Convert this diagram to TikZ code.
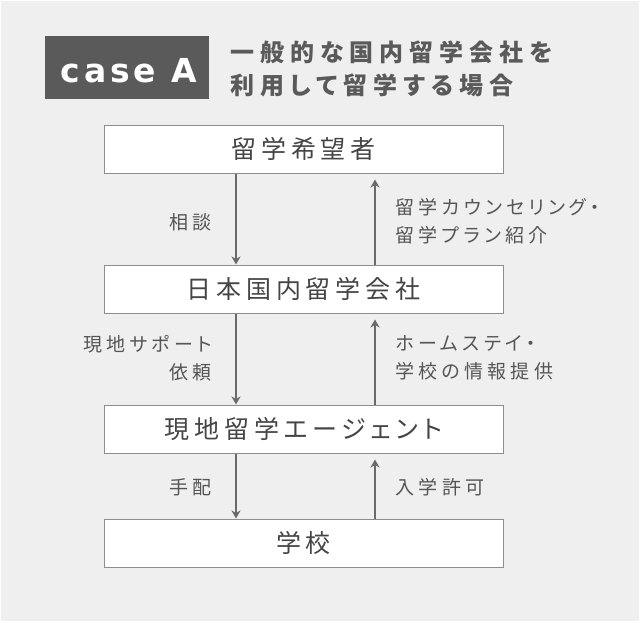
\documentclass[tikz,border=0pt]{standalone}
\usepackage{fontspec}
\usetikzlibrary{arrows.meta}
\setmainfont{Liberation Sans}
\newfontfamily\jpfont{Noto Sans CJK JP}[RawFeature=+palt]
\newfontfamily\casefam{DejaVu Sans}
\definecolor{bgcol}{HTML}{EFEFEF}
\definecolor{casecol}{HTML}{5A5A5A}
\definecolor{linecol}{HTML}{8E8E8E}
\definecolor{boxtext}{HTML}{454545}
\definecolor{lbltext}{HTML}{555555}
\definecolor{arrowcol}{HTML}{6A6A6A}
\newcommand{\casefont}{\casefam\bfseries\fontsize{33}{40}\selectfont\addfontfeature{LetterSpace=12}}
\newcommand{\titlefont}{\jpfont\bfseries\fontsize{24}{33}\selectfont\addfontfeature{LetterSpace=25}}
\newcommand{\boxfont}{\jpfont\fontsize{25}{30}\selectfont\addfontfeature{LetterSpace=19}}
\newcommand{\lblfont}{\jpfont\fontsize{19}{28}\selectfont\addfontfeature{LetterSpace=22}}

\tikzset{
  stepbox/.style={draw=linecol, fill=white, line width=1pt, minimum width=399pt,
    minimum height=48pt, inner sep=0pt, text=boxtext, font=\boxfont},
  lbl/.style={inner sep=0pt, text=lbltext, font=\lblfont},
  flow/.style={draw=arrowcol, line width=1.3pt,
    -{Stealth[length=8pt,width=9pt,inset=2.5pt]}},
}

\begin{document}
\begin{tikzpicture}[x=1pt,y=-1pt]
          \useasboundingbox (0,0) rectangle (640,622);
          \fill[white] (0,0) rectangle (640,622);
          \fill[bgcol] (1,1) rectangle (639,621);

          % heading
          \node[fill=casecol, minimum width=164pt, minimum height=63pt, inner sep=0pt] (case) at (127,67.5) {};
          \node[inner sep=0pt, text=white, font=\casefont] (caselbl) at ([xshift=2pt,yshift=-3.5pt]case.center) {case A};
          \node[inner sep=0pt, anchor=west, align=left, text=casecol, font=\titlefont] (title) at (230,68.5)
            {一般的な国内留学会社を\\利用して留学する場合};

          % boxes
          \node[stepbox] (kibo) at (303.5,149) {留学希望者};
          \node[stepbox] (kaisha) at (303.5,289) {日本国内留学会社};
          \node[stepbox] (agent) at (303.5,429) {現地留学エージェント};
          \node[stepbox] (gakko) at (303.5,543) {学校};

          % arrows
          \draw[flow] ([xshift=-67.5pt]kibo.south) -- ([xshift=-67.5pt]kaisha.north);
          \draw[flow] ([xshift=71.5pt]kaisha.north) -- ([xshift=71.5pt,yshift=-6pt]kibo.south);
          \draw[flow] ([xshift=-67.5pt]kaisha.south) -- ([xshift=-67.5pt]agent.north);
          \draw[flow] ([xshift=71.5pt]agent.north) -- ([xshift=71.5pt,yshift=-6pt]kaisha.south);
          \draw[flow] ([xshift=-67.5pt]agent.south) -- ([xshift=-67.5pt]gakko.north);
          \draw[flow] ([xshift=71.5pt]gakko.north) -- ([xshift=71.5pt,yshift=-6pt]agent.south);

          % labels
          \node[lbl, anchor=east] (soudan) at (212,222) {相談};
          \node[lbl, anchor=west, align=left] (counsel) at (395.5,221) {留学カウンセリング・\\留学プラン紹介};
          \node[lbl, anchor=east, align=right] (irai) at (212,358) {現地サポート\\依頼};
          \node[lbl, anchor=west, align=left] (joho) at (395.5,358) {ホームステイ・\\学校の情報提供};
          \node[lbl, anchor=east] (tehai) at (212,487) {手配};
          \node[lbl, anchor=west] (kyoka) at (395.5,487) {入学許可};
        \end{tikzpicture}
\end{document}
